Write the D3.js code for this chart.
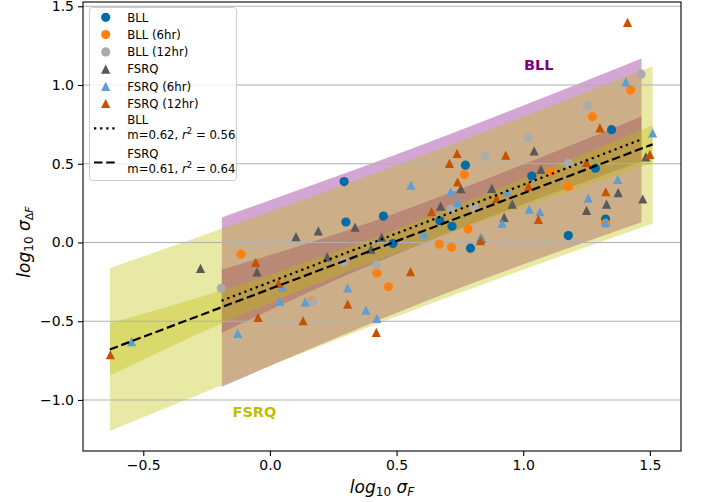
<!DOCTYPE html>
<html><head><meta charset="utf-8">
<script src="https://cdn.jsdelivr.net/npm/d3@7"></script>
<style>body{margin:0;background:#fff}svg{display:block}text{font-family:"DejaVu Sans",sans-serif}</style>
</head><body><svg id="c" width="706" height="502"></svg>
<script>
// ---- data ----
const bllX = [0.293,0.300,0.448,0.486,0.671,0.719,0.772,0.792,1.034,1.285,1.349,1.325,1.178];
const bllY = [0.387,0.130,0.168,-0.007,0.138,0.103,0.491,-0.036,0.422,0.472,0.716,0.149,0.044];
const bll6X = [-0.114,0.167,0.422,0.468,0.669,0.717,0.782,0.768,1.109,1.178,1.273,1.325,1.424];
const bll6Y = [-0.074,-0.372,-0.194,-0.281,-0.011,-0.030,0.085,0.430,0.447,0.356,0.798,0.121,0.968];
const bll12X = [-0.192,0.169,0.292,0.421,0.715,0.806,0.849,1.020,1.178,1.254,1.465];
const bll12Y = [-0.291,-0.377,-0.124,-0.143,0.212,0.225,0.552,0.665,0.502,0.866,1.069];
const fsrqX = [-0.274,-0.051,0.103,0.191,0.226,0.336,0.399,0.441,0.674,0.754,0.835,0.876,0.925,0.957,1.043,1.070,1.250,1.329,1.375,1.472,1.484];
const fsrqY = [-0.164,-0.186,0.037,0.074,-0.091,0.098,-0.042,0.034,0.231,0.342,0.026,0.343,0.159,0.244,0.582,0.464,0.204,0.243,0.317,0.276,0.544];
const fsrq6X = [-0.546,-0.127,0.039,0.049,0.139,0.307,0.379,0.422,0.557,0.608,0.714,0.741,0.832,0.917,0.936,1.024,1.066,1.257,1.325,1.373,1.405,1.511];
const fsrq6Y = [-0.630,-0.577,-0.372,-0.285,-0.377,-0.288,-0.429,-0.482,0.364,0.055,0.322,0.255,0.031,0.122,0.322,0.211,0.195,0.282,0.128,0.400,1.020,0.696];
const fsrq12X = [-0.630,-0.056,0.034,-0.047,0.131,0.307,0.420,0.555,0.638,0.709,0.739,0.741,0.831,0.895,0.931,1.021,1.060,1.250,1.303,1.326,1.500,1.412];
const fsrq12Y = [-0.713,-0.126,-0.260,-0.476,-0.497,-0.391,-0.571,-0.185,0.195,0.502,0.566,0.385,0.012,0.280,0.555,0.356,0.147,0.509,0.728,0.322,0.559,1.397];

// fits and bands
const bllFitX = [-0.191, 1.467], bllFitY = [-0.370, 0.655];
const fsrqFitX = [-0.632, 1.511], fsrqFitY = [-0.679, 0.623];
const bllPredX = [-0.19, 0.64, 1.467], bllPredUp = [0.159, 0.645, 1.169], bllPredLo = [-0.916, -0.357, 0.128];
const bllConfX = [-0.19, 0.3, 0.8, 1.467], bllConfUp = [-0.172, 0.075, 0.37, 0.80], bllConfLo = [-0.574, -0.21, 0.12, 0.515];
const fsrqPredX = [-0.632, 0.44, 1.511], fsrqPredUp = [-0.163, 0.454, 1.12], fsrqPredLo = [-1.197, -0.506, 0.121];
const fsrqConfX = [-0.632, -0.19, 0.43, 1.0, 1.511], fsrqConfUp = [-0.511, -0.305, 0.043, 0.406, 0.745], fsrqConfLo = [-0.845, -0.515, -0.107, 0.226, 0.505];

const xTicks = [-0.5, 0.0, 0.5, 1.0, 1.5];
const yTicks = [-1.0, -0.5, 0.0, 0.5, 1.0, 1.5];
const xDomain = [-0.738, 1.623], yDomain = [-1.324, 1.527];

const seriesNames = ["BLL","BLL (6hr)","BLL (12hr)","FSRQ","FSRQ (6hr)","FSRQ (12hr)"];
const seriesColors = ["#006BA4","#FF800E","#ABABAB","#595959","#5F9ED1","#C85200"];

// ---- drawing ----
const L=83,R=681,T=2,B=451;
const svg = d3.select("#c");
const x = d3.scaleLinear().domain(xDomain).range([L,R]);
const y = d3.scaleLinear().domain(yDomain).range([B,T]);
svg.append("clipPath").attr("id","clp").append("rect").attr("x",L).attr("y",T).attr("width",R-L).attr("height",B-T);
const g = svg.append("g").attr("clip-path","url(#clp)");

function band(xs, up, lo, color){
  const d = xs.map((v,i)=>({x:v,u:up[i],l:lo[i]}));
  g.append("path").datum(d)
   .attr("d", d3.area().x(p=>x(p.x)).y0(p=>y(p.l)).y1(p=>y(p.u)).curve(d3.curveMonotoneX))
   .attr("fill", color).attr("fill-opacity",0.35);
}
band(bllPredX, bllPredUp, bllPredLo, "#800080");
band(bllConfX, bllConfUp, bllConfLo, "#800080");
band(fsrqPredX, fsrqPredUp, fsrqPredLo, "#bfbf00");
band(fsrqConfX, fsrqConfUp, fsrqConfLo, "#bfbf00");

// grid
g.selectAll(".gr").data(yTicks).enter().append("line")
 .attr("x1",L).attr("x2",R).attr("y1",d=>y(d)).attr("y2",d=>y(d))
 .attr("stroke","#b0b0b0").attr("stroke-width",1.1);

// points
const sets = [[bllX,bllY],[bll6X,bll6Y],[bll12X,bll12Y],[fsrqX,fsrqY],[fsrq6X,fsrq6Y],[fsrq12X,fsrq12Y]];
const RAD = 4.6;
function tri(cx, cy, h){ return `M${cx},${cy-h}L${cx+h},${cy+h}L${cx-h},${cy+h}Z`; }
sets.forEach((s,i)=>{
  const pts = s[0].map((v,k)=>[v, s[1][k]]);
  if(i<3){
    g.selectAll(null).data(pts).enter().append("circle")
     .attr("cx",d=>x(d[0])).attr("cy",d=>y(d[1])).attr("r",RAD).attr("fill",seriesColors[i]);
  } else {
    g.selectAll(null).data(pts).enter().append("path")
     .attr("d", d=> tri(x(d[0]), y(d[1]), RAD)).attr("fill", seriesColors[i]);
  }
});

// fit lines
const line = d3.line().x(d=>x(d[0])).y(d=>y(d[1]));
g.append("path").attr("d", line(bllFitX.map((v,i)=>[v,bllFitY[i]])))
 .attr("stroke","#000").attr("stroke-width",2.2).attr("fill","none").attr("stroke-dasharray","2.3,3.8");
g.append("path").attr("d", line(fsrqFitX.map((v,i)=>[v,fsrqFitY[i]])))
 .attr("stroke","#000").attr("stroke-width",2.2).attr("fill","none").attr("stroke-dasharray","8.5,3.7");

// annotations
g.append("text").attr("x",524).attr("y",69.5).text("BLL").attr("fill","#800080")
 .attr("font-weight","bold").attr("font-size",14.5);
g.append("text").attr("x",232.5).attr("y",416.8).text("FSRQ").attr("fill","#bfbf00")
 .attr("font-weight","bold").attr("font-size",14.5);

// axes frame
svg.append("rect").attr("x",L).attr("y",T).attr("width",R-L).attr("height",B-T)
 .attr("fill","none").attr("stroke","#000").attr("stroke-width",1.1);

const fmt = v => (v<0?"\u2212":"") + Math.abs(v).toFixed(1);
const xa = svg.append("g").attr("transform",`translate(0,${B})`)
  .call(d3.axisBottom(x).tickValues(xTicks).tickFormat(fmt).tickSize(5).tickPadding(4));
const ya = svg.append("g").attr("transform",`translate(${L},0)`)
  .call(d3.axisLeft(y).tickValues(yTicks).tickFormat(fmt).tickSize(5).tickPadding(4));
[xa,ya].forEach(a=>{
  a.select(".domain").remove();
  a.selectAll("line").attr("stroke","#000").attr("stroke-width",1.1);
  a.selectAll("text").attr("font-size",14).attr("fill","#000").style("font-family","DejaVu Sans");
});

// axis labels
const xl = svg.append("text").attr("x",382).attr("y",493).attr("text-anchor","middle").attr("font-size",17);
xl.append("tspan").attr("font-style","italic").text("log");
xl.append("tspan").attr("font-size",12).attr("dy",3).text("10");
xl.append("tspan").attr("dy",-3).attr("font-style","italic").text("\u00a0\u03c3");
xl.append("tspan").attr("font-size",12).attr("dy",3).attr("font-style","italic").text("F");

const yl = svg.append("text").attr("transform","translate(30,242) rotate(-90)").attr("text-anchor","middle").attr("font-size",17);
yl.append("tspan").attr("font-style","italic").text("log");
yl.append("tspan").attr("font-size",12).attr("dy",3).text("10");
yl.append("tspan").attr("dy",-3).attr("font-style","italic").text("\u00a0\u03c3");
yl.append("tspan").attr("font-size",11).attr("dy",3).text("\u0394");
yl.append("tspan").attr("font-size",11).attr("font-style","italic").text("F");

// legend
const lg = svg.append("g");
lg.append("rect").attr("x",89.5).attr("y",7.5).attr("width",147).attr("height",173).attr("rx",3)
  .attr("fill","#fff").attr("fill-opacity",0.8).attr("stroke","#cccccc").attr("stroke-width",1);
const fs = 11.7;
const rowY = [17.3, 34.6, 51.9, 69.1, 86.3, 103.5];
seriesNames.forEach((n,i)=>{
  const cy = rowY[i];
  if(i<3) lg.append("circle").attr("cx",105.7).attr("cy",cy).attr("r",RAD).attr("fill",seriesColors[i]);
  else lg.append("path").attr("d",tri(105.7,cy,RAD)).attr("fill",seriesColors[i]);
  lg.append("text").attr("x",127.3).attr("y",cy+0.36*fs).attr("font-size",fs).text(n);
});
function fitEntry(yl1, yl2, ly, name, m, r2, dash){
  lg.append("line").attr("x1",94).attr("x2",117.3).attr("y1",ly).attr("y2",ly)
    .attr("stroke","#000").attr("stroke-width",2.2).attr("stroke-dasharray",dash);
  lg.append("text").attr("x",127.3).attr("y",yl1+0.36*fs).attr("font-size",fs).text(name);
  const t = lg.append("text").attr("x",127.3).attr("y",yl2+0.36*fs).attr("font-size",fs);
  t.append("tspan").text("m=" + m + ", ");
  t.append("tspan").attr("font-style","italic").text("r");
  t.append("tspan").attr("font-size",8.5).attr("dy",-5).text("2");
  t.append("tspan").attr("dy",5).text(" = " + r2);
}
fitEntry(119.5, 135, 128.3, "BLL", "0.62", "0.56", "2.3,3.8");
fitEntry(153.3, 168.3, 162.5, "FSRQ", "0.61", "0.64", "8.5,3.7");
</script></body></html>
